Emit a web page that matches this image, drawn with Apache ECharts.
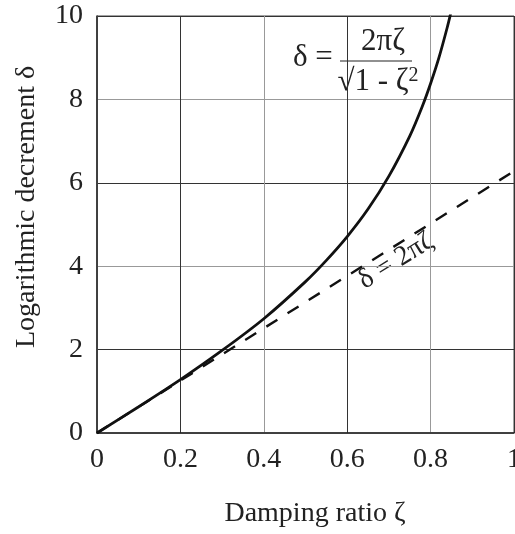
<!DOCTYPE html>
<html>
<head>
<meta charset="utf-8">
<script src="https://cdn.jsdelivr.net/npm/echarts@6/dist/echarts.min.js"></script>
<style>
  html, body { margin: 0; padding: 0; background: #fff; }
  #chart { width: 515px; height: 534px; }
</style>
</head>
<body>
<div id="chart"></div>
<script>
// values
const zeta = [0, 0.1, 0.2, 0.3, 0.4, 0.5, 0.55, 0.6, 0.65, 0.7, 0.75, 0.78, 0.8, 0.82, 0.84, 0.85];
const deltaExact = [0, 0.63, 1.28, 1.98, 2.74, 3.63, 4.14, 4.71, 5.37, 6.16, 7.12, 7.83, 8.38, 9.0, 9.73, 10.14];
const approxZeta = [0, 1];
const approxDelta = [0, 6.28];
const xTicks = [0, 0.2, 0.4, 0.6, 0.8, 1];
const yTicks = [0, 2, 4, 6, 8, 10];

const font = 'Liberation Serif';
const chart = echarts.init(document.getElementById('chart'));

chart.setOption({
  animation: false,
  grid: {
    left: 97,
    right: 1,
    top: 16,
    bottom: 101,
    outerBoundsMode: 'none',
    show: true,
    borderColor: '#444',
    borderWidth: 1
  },
  xAxis: {
    type: 'value',
    min: xTicks[0],
    max: xTicks[xTicks.length - 1],
    interval: 0.2,
    axisLine: { show: true, onZero: false, lineStyle: { color: '#222', width: 1.5 } },
    axisTick: { show: false },
    axisLabel: {
      color: '#222',
      fontFamily: font,
      fontSize: 28,
      margin: 13,
      formatter: v => String(Math.round(v * 10) / 10)
    },
    splitLine: {
      show: true,
      lineStyle: { color: ['#999', '#333'], width: 1 }
    }
  },
  yAxis: {
    type: 'value',
    min: yTicks[0],
    max: yTicks[yTicks.length - 1],
    interval: 2,
    axisLine: { show: true, onZero: false, lineStyle: { color: '#222', width: 1.5 } },
    axisTick: { show: false },
    axisLabel: {
      color: '#222',
      fontFamily: font,
      fontSize: 28,
      margin: 14
    },
    splitLine: {
      show: true,
      lineStyle: { color: ['#999', '#333'], width: 1 }
    }
  },
  series: [
    {
      type: 'line',
      data: zeta.map((z, i) => [z, deltaExact[i]]),
      smooth: 0.3,
      showSymbol: false,
      lineStyle: { color: '#111', width: 2.8 }
    },
    {
      type: 'line',
      data: approxZeta.map((z, i) => [z, approxDelta[i]]),
      showSymbol: false,
      lineStyle: { color: '#111', width: 2.4, type: [13, 12] }
    }
  ],
  graphic: [
    {
      type: 'text',
      x: 27, y: 348,
      rotation: Math.PI / 2,
      style: {
        text: 'Logarithmic decrement δ',
        font: '28px "Liberation Serif"',
        fill: '#222',
        align: 'left',
        verticalAlign: 'middle'
      }
    },
    {
      type: 'text',
      x: 315, y: 514,
      style: {
        text: 'Damping ratio ζ',
        font: '28px "Liberation Serif"',
        fill: '#222',
        align: 'center',
        verticalAlign: 'middle'
      }
    },
    {
      type: 'text',
      x: 293, y: 58,
      style: {
        text: 'δ =',
        font: '31px "Liberation Serif"',
        fill: '#222',
        verticalAlign: 'middle'
      }
    },
    {
      type: 'text',
      x: 383, y: 42,
      style: {
        text: '2πζ',
        font: '31px "Liberation Serif"',
        fill: '#222',
        align: 'center',
        verticalAlign: 'middle'
      }
    },
    {
      type: 'line',
      shape: { x1: 340, y1: 61, x2: 412, y2: 61 },
      style: { stroke: '#222', lineWidth: 1.2 }
    },
    {
      type: 'text',
      x: 378, y: 82,
      style: {
        text: '√1 - ζ{sup|2}',
        font: '31px "Liberation Serif"',
        fill: '#222',
        align: 'center',
        verticalAlign: 'middle',
        rich: {
          sup: { font: '20px "Liberation Serif"', fill: '#222', verticalAlign: 'top', padding: [0, 0, 12, 0] }
        }
      }
    },
    {
      type: 'text',
      x: 396, y: 261,
      rotation: 32 * Math.PI / 180,
      style: {
        text: 'δ = 2πζ',
        font: '28px "Liberation Serif"',
        fill: '#222',
        align: 'center',
        verticalAlign: 'middle'
      }
    }
  ]
});
</script>
</body>
</html>
